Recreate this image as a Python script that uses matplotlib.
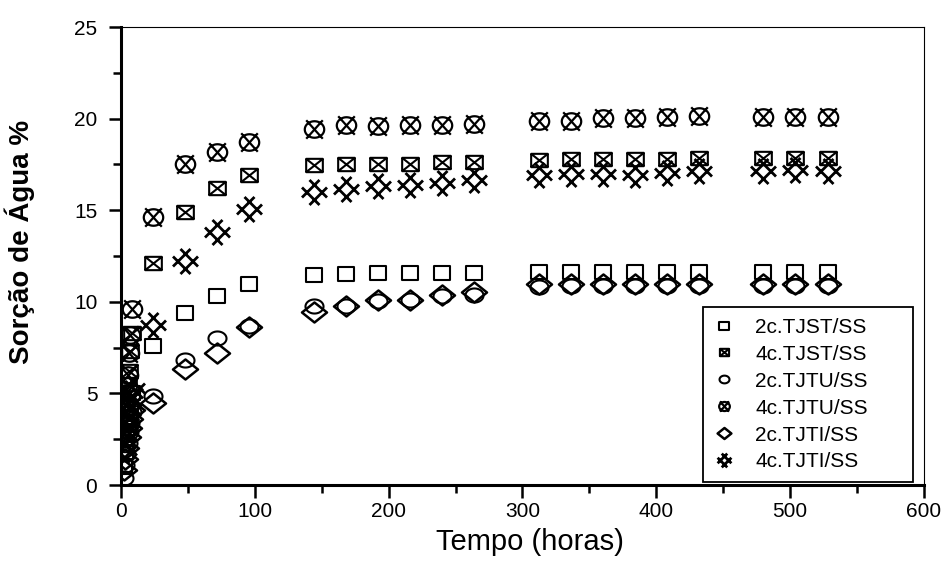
"""Water sorption (%) vs time (hours) for the six composite samples."""

import matplotlib
matplotlib.use("Agg")
import matplotlib.pyplot as plt
import numpy as np
from matplotlib.path import Path
from matplotlib.ticker import MultipleLocator

# time in hours
hours = [2, 3, 4, 5, 6, 7, 8, 24, 48, 72, 96, 144, 168, 192, 216, 240, 264,
         312, 336, 360, 384, 408, 432, 480, 504, 528]

# water sorption (%) for each sample
tjst_2c = [1.0, 1.8, 2.5, 3.1, 3.7, 4.2, 5.0,
           7.6, 9.4, 10.3, 11.0, 11.45, 11.5, 11.55, 11.55, 11.6, 11.6,
           11.65, 11.65, 11.65, 11.65, 11.65, 11.65, 11.65, 11.65, 11.65]
tjst_4c = [2.2, 3.4, 4.4, 5.5, 6.2, 7.3, 8.3,
           12.1, 14.9, 16.2, 16.9, 17.45, 17.55, 17.55, 17.55, 17.65, 17.65,
           17.75, 17.8, 17.8, 17.8, 17.8, 17.85, 17.85, 17.85, 17.85]
tjtu_2c = [0.4, 1.1, 1.7, 2.3, 2.9, 3.4, 4.0,
           4.85, 6.8, 8.05, 8.7, 9.75, 9.8, 10.05, 10.1, 10.3, 10.4,
           10.8, 10.85, 10.85, 10.85, 10.85, 10.85, 10.85, 10.85, 10.85]
tjtu_4c = [2.8, 4.0, 5.0, 6.0, 7.2, 8.2, 9.6,
           14.65, 17.5, 18.2, 18.75, 19.45, 19.65, 19.6, 19.65, 19.65, 19.7,
           19.9, 19.85, 20.05, 20.05, 20.1, 20.15, 20.1, 20.1, 20.1]
tjti_2c = [0.8, 1.4, 2.0, 2.6, 3.1, 3.6, 4.1,
           4.5, 6.35, 7.2, 8.65, 9.45, 9.75, 10.1, 10.1, 10.35, 10.55,
           10.95, 10.95, 11.0, 11.0, 11.0, 11.0, 11.0, 11.0, 11.0]
tjti_4c = [1.9, 2.7, 3.4, 4.1, 4.6, 5.0, 5.3,
           8.75, 12.25, 13.8, 15.05, 16.0, 16.15, 16.35, 16.4, 16.5, 16.65,
           16.9, 17.0, 17.0, 16.95, 17.05, 17.15, 17.15, 17.2, 17.15]

labels = ["2c.TJST/SS", "4c.TJST/SS", "2c.TJTU/SS",
          "4c.TJTU/SS", "2c.TJTI/SS", "4c.TJTI/SS"]

M, L, C = Path.MOVETO, Path.LINETO, Path.CLOSEPOLY


def rect_marker(h=0.8, cross=False):
    verts = [(-1, -h), (1, -h), (1, h), (-1, h), (-1, -h)]
    codes = [M, L, L, L, C]
    if cross:
        verts += [(-1, -h), (1, h), (-1, h), (1, -h)]
        codes += [M, L, M, L]
    return Path(verts, codes)


def ellipse_marker(ry=0.78, cross=False):
    a = np.linspace(0, 2 * np.pi, 41)
    verts = list(zip(np.cos(a), ry * np.sin(a)))
    codes = [M] + [L] * 39 + [C]
    if cross:
        verts += [(-0.85, -0.95), (0.85, 0.95), (-0.85, 0.95), (0.85, -0.95)]
        codes += [M, L, M, L]
    return Path(verts, codes)


def diamond_marker(h=0.8):
    return Path([(0, h), (1, 0), (0, -h), (-1, 0), (0, h)], [M, L, L, L, C])


def hatch_marker(c=0.6):
    # two crossing pairs of diagonals (double X)
    verts = [(-1, -1 + c), (1 - c, 1), (-1 + c, -1), (1, 1 - c),
             (-1 + c, 1), (1, -1 + c), (-1, 1 - c), (1 - c, -1)]
    return Path(verts, [M, L, M, L, M, L, M, L])


series = [tjst_2c, tjst_4c, tjtu_2c, tjtu_4c, tjti_2c, tjti_4c]
markers = [rect_marker(), rect_marker(cross=True), ellipse_marker(),
           ellipse_marker(ry=0.85, cross=True), diamond_marker(), hatch_marker()]
sizes = [12, 12, 13, 14, 18, 18]
widths = [1.5, 1.5, 1.5, 1.6, 1.8, 2.0]

plt.rcParams["font.family"] = ["Liberation Sans", "DejaVu Sans"]

fig = plt.figure(figsize=(9.48, 5.70), dpi=100)
ax = fig.add_axes([0.1276, 0.149, 0.847, 0.8035])

for vals, mk, ms, mw, lab in zip(series, markers, sizes, widths, labels):
    ax.plot(hours, vals, linestyle="none", marker=mk, ms=ms, mfc="none",
            mec="black", mew=mw, label=lab)

ax.set_xlim(0, 600)
ax.set_ylim(0, 25)
ax.xaxis.set_major_locator(MultipleLocator(100))
ax.xaxis.set_minor_locator(MultipleLocator(50))
ax.yaxis.set_major_locator(MultipleLocator(5))
ax.yaxis.set_minor_locator(MultipleLocator(2.5))
ax.tick_params(which="both", direction="out", width=1.8, labelsize=15,
               top=False, right=False)
ax.tick_params(which="major", length=9)
ax.tick_params(which="minor", length=6)
ax.tick_params(axis="y", pad=8)

for side in ["left", "bottom"]:
    ax.spines[side].set_linewidth(2.2)
for side in ["top", "right"]:
    ax.spines[side].set_linewidth(0.8)

ax.set_xlabel("Tempo (horas)", fontsize=21)
ax.set_ylabel("Sorção de Água %", fontsize=20, fontweight="bold")
ax.xaxis.set_label_coords(0.509, -0.094)
ax.yaxis.set_label_coords(-0.107, 0.53)

leg = ax.legend(loc="lower left", bbox_to_anchor=(0.7248, 0.007, 0.2615, 0.38),
                mode="expand", borderaxespad=0, fontsize=15, markerscale=0.55,
                handlelength=1.0, handletextpad=1.0, labelspacing=0.38,
                borderpad=0.5, fancybox=False, framealpha=1,
                edgecolor="black")
leg.get_frame().set_linewidth(1.3)

fig.savefig("out.png", dpi=100)
